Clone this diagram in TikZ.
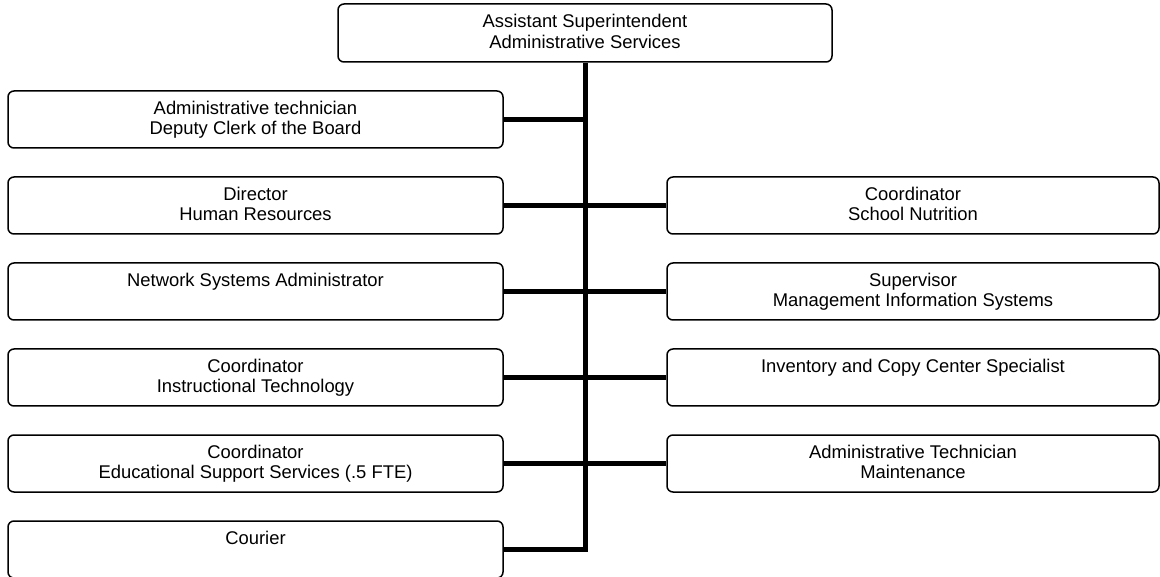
\documentclass[tikz,border=0pt]{standalone}
\usepackage{fontspec}
\setmainfont{Liberation Sans}
% text of one post: lines centred, set from the top of the box
\newcommand\posttext[1]{\parbox[c][57pt][t]{480pt}{\centering
  \fontsize{18.4}{20.5}\selectfont\vspace*{9pt}\strut#1}}
\begin{document}
\begin{tikzpicture}[x=1pt,y=-1pt,
  post/.style={draw, line width=1.5pt, rounded corners=6pt, inner sep=0pt,
    minimum height=57pt, fill=white},
  leftpost/.style={post, minimum width=495pt},
  rightpost/.style={post, minimum width=492pt},
  link/.style={line width=5pt}]
\useasboundingbox (0,0) rectangle (1160,577);

% head of the department
\node[post, minimum width=494pt, minimum height=58pt] (head) at (585,33)
  {\posttext{Assistant Superintendent\\Administrative Services}};

% left column
\node[leftpost] (l1) at (255.5,119.5) {\posttext{Administrative technician\\Deputy Clerk of the Board}};
\node[leftpost] (l2) at (255.5,205.5) {\posttext{Director\\Human Resources}};
\node[leftpost] (l3) at (255.5,291.5) {\posttext{Network Systems Administrator}};
\node[leftpost] (l4) at (255.5,377.5) {\posttext{Coordinator\\Instructional Technology}};
\node[leftpost] (l5) at (255.5,463.5) {\posttext{Coordinator\\Educational Support Services (.5 FTE)}};
\node[leftpost] (l6) at (255.5,549.5) {\posttext{Courier}};

% right column
\node[rightpost] (r1) at (913,205.5) {\posttext{Coordinator\\School Nutrition}};
\node[rightpost] (r2) at (913,291.5) {\posttext{Supervisor\\Management Information Systems}};
\node[rightpost] (r3) at (913,377.5) {\posttext{Inventory and Copy Center Specialist}};
\node[rightpost] (r4) at (913,463.5) {\posttext{Administrative Technician\\Maintenance}};

% reporting lines
\draw[link] (head.south) -- (head.south |- l6.east) -- (l6.east);
\draw[link] (l1.east) -- (l1.east -| head.south);
\draw[link] (l2.east) -- (r1.west);
\draw[link] (l3.east) -- (r2.west);
\draw[link] (l4.east) -- (r3.west);
\draw[link] (l5.east) -- (r4.west);
\end{tikzpicture}
\end{document}
